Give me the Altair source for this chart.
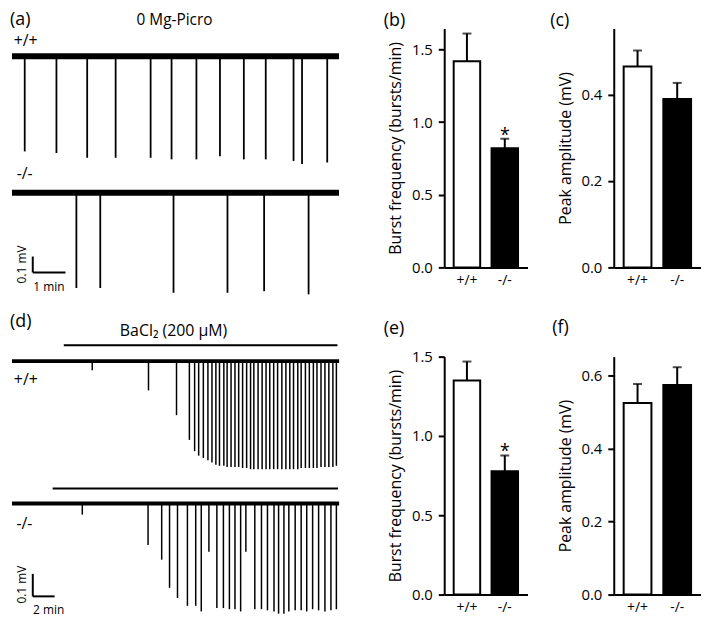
import altair as alt
import pandas as pd

FONT = "Open Sans"
GENOTYPES = ["+/+", "-/-"]

# ---------------- data: (a) 0 Mg-Picro traces (time in min, spike amplitude in mV)
a_wt_times = [0.39, 1.36, 2.30, 3.17, 4.24, 4.88, 5.64, 6.36, 7.09, 7.76, 8.61, 8.87, 9.64]
a_wt_amps = [0.60, 0.61, 0.64, 0.64, 0.64, 0.65, 0.65, 0.63, 0.65, 0.65, 0.66, 0.68, 0.67]
a_ko_times = [1.97, 2.70, 4.94, 6.59, 7.71, 9.07]
a_ko_amps = [0.60, 0.60, 0.63, 0.63, 0.62, 0.64]
a_duration = 10.0

# ---------------- data: (d) BaCl2 traces
d_wt_times = [7.36, 12.52, 15.09, 16.27, 16.75, 17.12, 17.55, 17.97, 18.34, 18.70,
              19.03, 19.43, 19.73, 20.09, 20.45, 20.79, 21.15, 21.52, 21.88, 22.18,
              22.57, 22.94, 23.30, 23.64, 24.00, 24.36, 24.75, 25.12, 25.48, 25.82,
              26.21, 26.52, 26.91, 27.27, 27.64, 27.97, 28.34, 28.70, 29.06, 29.43,
              29.75]
d_wt_amps = [0.04, 0.13, 0.24, 0.35, 0.40, 0.42, 0.43, 0.44, 0.45, 0.46,
             0.465, 0.465, 0.47, 0.47, 0.47, 0.47, 0.475, 0.475, 0.48, 0.48,
             0.48, 0.48, 0.48, 0.48, 0.48, 0.48, 0.48, 0.48, 0.48, 0.48,
             0.48, 0.475, 0.475, 0.475, 0.475, 0.475, 0.47, 0.47, 0.47, 0.47,
             0.465]
d_ko_times = [6.45, 12.48, 13.73, 14.45, 15.18, 16.09, 16.85, 17.36, 18.06, 18.79,
              19.39, 19.94, 20.45, 20.97, 21.45, 22.27, 22.88, 23.43, 24.03, 24.45,
              24.94, 25.39, 25.97, 26.52, 27.03, 27.57, 28.12, 28.70, 29.25, 29.75]
d_ko_amps = [0.05, 0.185, 0.25, 0.375, 0.42, 0.455, 0.455, 0.48, 0.215, 0.465,
             0.465, 0.47, 0.47, 0.48, 0.215, 0.47, 0.47, 0.475, 0.48, 0.49,
             0.49, 0.48, 0.475, 0.475, 0.48, 0.47, 0.475, 0.48, 0.475, 0.47]
d_duration = 30.0
d_bacl2_wt = [4.75, 29.85]
d_bacl2_ko = [3.73, 29.90]

# ---------------- data: bar charts (mean, SEM)
b_mean = [1.42, 0.82]
b_sem = [0.19, 0.065]
c_mean = [0.465, 0.390]
c_sem = [0.037, 0.037]
e_mean = [1.35, 0.777]
e_sem = [0.119, 0.100]
f_mean = [0.525, 0.574]
f_sem = [0.052, 0.049]
b_sig = ["", "*"]
c_sig = ["", ""]
e_sig = ["", "*"]
f_sig = ["", ""]


def panel_title(text, dx, offset):
    return alt.TitleParams(text, anchor="start", frame="group", fontSize=18,
                           fontWeight="normal", font=FONT, color="black",
                           dx=dx, offset=offset)


def trace_panel(wt_t, wt_a, ko_t, ko_a, duration, ko_off,
                xdom, ydom, width, height, base_w, spike_w, labels, panel,
                rot_labels, sbar, drug=None):
    xs = alt.Scale(domain=xdom, nice=False, zero=False)
    ys = alt.Scale(domain=ydom, nice=False, zero=False)
    off = f"(datum.g == '-/-' ? {ko_off} : 0)"

    base_df = pd.DataFrame({"g": GENOTYPES, "t0": [0.0, 0.0], "t1": [duration, duration]})
    spikes_df = pd.DataFrame({
        "t": wt_t + ko_t,
        "amp": wt_a + ko_a,
        "g": ["+/+"] * len(wt_t) + ["-/-"] * len(ko_t),
    })

    base = alt.Chart(base_df).transform_calculate(y=off).mark_rule(
        strokeWidth=base_w, color="black").encode(
        x=alt.X("t0:Q", scale=xs, axis=None), x2="t1:Q",
        y=alt.Y("y:Q", scale=ys, axis=None))

    spikes = alt.Chart(spikes_df).transform_calculate(
        y0=off, y1=f"{off} - datum.amp").mark_rule(
        strokeWidth=spike_w, color="black").encode(
        x=alt.X("t:Q", scale=xs, axis=None),
        y=alt.Y("y0:Q", scale=ys, axis=None), y2="y1:Q")

    lab = alt.Chart(pd.DataFrame(labels)).mark_text(
        font=FONT, color="black", baseline="middle", align="center").encode(
        x=alt.X("x:Q", scale=xs, axis=None), y=alt.Y("y:Q", scale=ys, axis=None),
        text="text:N", size=alt.Size("size:Q", scale=None))

    panel_lab = alt.Chart(pd.DataFrame({"text": [panel[0]], "x": [panel[1]],
                                        "y": [panel[2]]})).mark_text(
        font=FONT, color="black", baseline="middle", align="left", fontSize=18).encode(
        x=alt.X("x:Q", scale=xs, axis=None), y=alt.Y("y:Q", scale=ys, axis=None),
        text="text:N")

    rlab = alt.Chart(pd.DataFrame(rot_labels)).mark_text(
        font=FONT, color="black", align="center", baseline="middle", angle=270).encode(
        x=alt.X("x:Q", scale=xs, axis=None), y=alt.Y("y:Q", scale=ys, axis=None),
        text="text:N", size=alt.Size("size:Q", scale=None))

    # scale bar: anchor from layout, lengths (min, mV) from sbar
    sb_df = pd.DataFrame({"x0": [sbar["x0"]], "x1": [sbar["x0"] + sbar["dt"]],
                          "y0": [sbar["y0"]], "y1": [sbar["y0"] + sbar["dv"]]})
    sb_v = alt.Chart(sb_df).mark_rule(strokeWidth=2, color="black").encode(
        x=alt.X("x0:Q", scale=xs, axis=None),
        y=alt.Y("y0:Q", scale=ys, axis=None), y2="y1:Q")
    sb_h = alt.Chart(sb_df).mark_rule(strokeWidth=2, color="black").encode(
        x=alt.X("x0:Q", scale=xs, axis=None), x2="x1:Q",
        y=alt.Y("y0:Q", scale=ys, axis=None))

    layers = [base, spikes, lab, panel_lab, rlab, sb_v, sb_h]
    if drug is not None:
        drug_df = pd.DataFrame(drug)
        dr = alt.Chart(drug_df).mark_rule(strokeWidth=2, color="black").encode(
            x=alt.X("t0:Q", scale=xs, axis=None), x2="t1:Q",
            y=alt.Y("y:Q", scale=ys, axis=None))
        layers.append(dr)

    return alt.layer(*layers).properties(width=width, height=height)


def bar_panel(title, title_dx, title_offset, means, sems, sig, ydom, ticks, ytitle,
              width, height):
    df = pd.DataFrame({"g": GENOTYPES, "m": means, "s": sems, "sig": sig})
    xsc = alt.Scale(domain=GENOTYPES, paddingInner=0.3, paddingOuter=0.25)
    ysc = alt.Scale(domain=ydom, nice=False, zero=True)
    xax = alt.Axis(title=None, labelAngle=0, ticks=False, domainColor="black",
                   domainWidth=2, labelColor="black", labelFontSize=14,
                   labelFont=FONT, labelPadding=6, labelBaseline="top")
    yax = alt.Axis(values=ticks, format=".1f", title=ytitle, grid=False,
                   domain=True, domainColor="black", domainWidth=2,
                   tickColor="black", tickWidth=2, tickSize=6, labelColor="black",
                   labelFontSize=15, labelFont=FONT, labelPadding=6,
                   titleFont=FONT, titleFontSize=16, titleFontWeight="normal",
                   titleColor="black", titlePadding=8)
    X = alt.X("g:N", scale=xsc, axis=xax, sort=GENOTYPES)
    base = alt.Chart(df).transform_calculate(top="datum.m + datum.s")
    bars = base.mark_bar(stroke="black", strokeWidth=2).encode(
        x=X, y=alt.Y("m:Q", scale=ysc, axis=yax),
        fill=alt.Fill("g:N", scale=alt.Scale(domain=GENOTYPES, range=["white", "black"]),
                      legend=None))
    err = base.mark_rule(strokeWidth=2, color="black").encode(
        x=X, y=alt.Y("m:Q", scale=ysc, axis=yax), y2="top:Q")
    cap = base.mark_tick(thickness=2, size=9, color="black").encode(
        x=X, y=alt.Y("top:Q", scale=ysc, axis=yax))
    star = base.transform_filter("datum.sig != ''").mark_text(
        font=FONT, fontSize=18, color="black", align="center",
        baseline="alphabetic", dy=2).encode(
        x=X, y=alt.Y("top:Q", scale=ysc, axis=yax), text="sig:N")
    return alt.layer(bars, err, cap, star).properties(
        width=width, height=height, title=panel_title(title, title_dx, title_offset))


# ---------------- layout constants (display only)
A_KO_OFF = -0.861
D_KO_OFF = -0.632

panel_a = trace_panel(
    a_wt_times, a_wt_amps, a_ko_times, a_ko_amps, a_duration, A_KO_OFF,
    xdom=[-0.0606, 10.58], ydom=[-1.331, 0.175], width=351, height=241,
    base_w=6, spike_w=1.8,
    labels={"text": ["+/+", "-/-", "0 Mg-Picro", "1 min"],
            "x": [0.42, 0.39, 4.97, 1.13],
            "y": [0.095, -0.742, 0.231, -1.454],
            "size": [16, 16, 15.5, 12]},
    panel=["(a)", -0.0606, 0.228],
    rot_labels={"text": ["0.1 mV"], "x": [0.30], "y": [-1.3125], "size": [12]},
    sbar={"x0": 0.636, "y0": -1.3625, "dt": 1.0, "dv": 0.1},
)

panel_d = trace_panel(
    d_wt_times, d_wt_amps, d_ko_times, d_ko_amps, d_duration, D_KO_OFF,
    xdom=[-0.182, 31.73], ydom=[-1.037, 0.020], width=351, height=240,
    base_w=4, spike_w=1.5,
    labels={"text": ["+/+", "-/-", "BaCl₂ (200 µM)", "2 min"],
            "x": [1.27, 1.14, 14.82, 3.36],
            "y": [-0.086, -0.725, 0.134, -1.107],
            "size": [16, 16, 16, 12]},
    panel=["(d)", -0.182, 0.172],
    rot_labels={"text": ["0.1 mV"], "x": [0.91], "y": [-0.993], "size": [12]},
    sbar={"x0": 1.909, "y0": -1.045, "dt": 2.0, "dv": 0.1},
    drug={"t0": [d_bacl2_wt[0], d_bacl2_ko[0]], "t1": [d_bacl2_wt[1], d_bacl2_ko[1]],
          "y": [0.071, D_KO_OFF + 0.066]},
)

panel_b = bar_panel("(b)", -61, -2, b_mean, b_sem, b_sig, [0, 1.645], [0, 0.5, 1.0, 1.5],
                    "Burst frequency (bursts/min)", 84, 241)
panel_c = bar_panel("(c)", -64, -2, c_mean, c_sem, c_sig, [0, 0.553], [0, 0.2, 0.4],
                    "Peak amplitude (mV)", 88, 241)
panel_e = bar_panel("(e)", -61, 12, e_mean, e_sem, e_sig, [0, 1.5], [0, 0.5, 1.0, 1.5],
                    "Burst frequency (bursts/min)", 84, 240)
panel_f = bar_panel("(f)", -62, 20, f_mean, f_sem, f_sig, [0, 0.652], [0, 0.2, 0.4, 0.6],
                    "Peak  amplitude (mV)", 88, 240)

chart = alt.concat(panel_a, panel_b, panel_c, panel_d, panel_e, panel_f,
                   columns=3, spacing={"row": 90, "column": 87}, bounds="flush").properties(
    padding=0, background="white"
).configure_view(stroke=None).configure_axis(labelFont=FONT, titleFont=FONT)

chart.save("out.html", embed_options={"renderer": "svg", "actions": False})
